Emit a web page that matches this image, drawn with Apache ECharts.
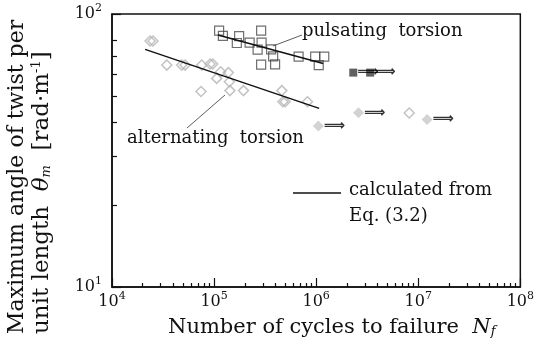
<!DOCTYPE html>
<html>
<head>
<meta charset="utf-8">
<script src="https://cdn.jsdelivr.net/npm/echarts@6/dist/echarts.min.js"></script>
<style>
html, body { margin: 0; padding: 0; background: #fff; }
#chart { width: 537px; height: 347px; }
</style>
</head>
<body>
<div id="chart"></div>
<script>
// pulsating torsion (open squares)
var pulsatingN = [1.12e5, 1.22e5, 1.76e5, 1.67e5, 2.23e5, 2.89e5, 2.92e5, 2.67e5, 3.62e5, 3.79e5, 2.89e5, 3.96e5, 6.73e5, 9.78e5, 1.20e6, 1.06e6]
var pulsatingTheta = [86.9, 83.1, 83.0, 78.3, 78.6, 86.9, 78.6, 74.1, 74.2, 69.9, 65.3, 65.4, 69.8, 69.8, 69.8, 65.0]
// pulsating run-outs (no failure)
var pulsatingRunN = [2.31e6, 3.38e6]
var pulsatingRunTheta = [61.0, 61.0]

// alternating torsion (open diamonds)
var alternatingN = [2.36e4, 2.52e4, 3.44e4, 4.82e4, 5.20e4, 7.57e4, 9.14e4, 9.71e4, 1.06e5, 1.16e5, 1.38e5, 1.41e5, 7.44e4, 1.43e5, 1.94e5, 4.61e5, 4.72e5, 4.97e5, 8.22e5, 8.16e6]
var alternatingTheta = [79.6, 79.6, 65.0, 65.0, 65.0, 65.0, 65.6, 65.6, 58.1, 61.4, 61.0, 56.5, 52.0, 52.4, 52.4, 52.4, 47.7, 47.7, 47.7, 43.4]
// alternating run-outs
var alternatingRunN = [1.05e6, 2.60e6, 1.22e7]
var alternatingRunTheta = [38.9, 43.5, 41.1]

// lines calculated from Eq. (3.2)
var pulsatingFitN = [1.09e5, 1.17e6]
var pulsatingFitTheta = [83.8, 65.9]
var alternatingFitN = [2.11e4, 1.07e6]
var alternatingFitTheta = [74.2, 45.1]

// minor ticks (log10 of 2..9 per decade)
var xMinor = []
for (var d = 4; d < 8; d++) {
  for (var k = 2; k <= 9; k++) xMinor.push(d + Math.log10(k))
}
var yMinor = [20, 30, 40, 50, 60, 70, 80].map(function (v) { return Math.log10(v) })

function zip(xs, ys) {
  return xs.map(function (x, i) { return [x, ys[i]] })
}

var serif = 'DejaVu Serif'
var ink = '#111'

var powLabel = {
  fontFamily: serif,
  color: ink,
  formatter: function (v) {
    return '10{s|' + Math.round(Math.log10(v)) + '}'
  },
  rich: {
    s: { fontFamily: serif, fontSize: 11, verticalAlign: 'top', lineHeight: 10, color: ink }
  },
  fontSize: 16,
  lineHeight: 22
}

var arrowLabel = {
  show: true, position: 'right', distance: 0, formatter: '\u27f9',
  fontFamily: 'DejaVu Sans', fontSize: 15, fontWeight: 'bold', color: '#000'
}

var chart = echarts.init(document.getElementById('chart'))

var option = {
  animation: false,
  grid: {
    left: 112, right: 16, top: 14, bottom: 60,
    show: true, borderColor: ink, borderWidth: 1.5
  },
  xAxis: [
    {
      type: 'log', logBase: 10, min: 1e4, max: 1e8,
      axisLine: { lineStyle: { color: ink, width: 1.5 } },
      axisTick: { inside: true, length: 9, lineStyle: { color: ink, width: 1.2 } },
      axisLabel: Object.assign({ margin: 4 }, powLabel),
      splitLine: { show: false }
    },
    {
      type: 'value', min: 4, max: 8, position: 'bottom',
      axisLine: { show: false },
      axisTick: { inside: true, length: 4, customValues: xMinor, lineStyle: { color: ink, width: 1.2 } },
      axisLabel: { show: false },
      splitLine: { show: false }
    }
  ],
  yAxis: [
    {
      type: 'log', logBase: 10, min: 10, max: 100,
      axisLine: { lineStyle: { color: ink, width: 1.5 } },
      axisTick: { inside: true, length: 9, lineStyle: { color: ink, width: 1.2 } },
      axisLabel: Object.assign({ margin: 10 }, powLabel),
      splitLine: { show: false }
    },
    {
      type: 'value', min: 1, max: 2, position: 'left',
      axisLine: { show: false },
      axisTick: { inside: true, length: 5, customValues: yMinor, lineStyle: { color: ink, width: 1.2 } },
      axisLabel: { show: false },
      splitLine: { show: false }
    }
  ],
  series: [
    {
      type: 'line', data: zip(pulsatingFitN, pulsatingFitTheta),
      symbol: 'none', lineStyle: { color: ink, width: 1.5 }, z: 3
    },
    {
      type: 'line', data: zip(alternatingFitN, alternatingFitTheta),
      symbol: 'none', lineStyle: { color: ink, width: 1.5 }, z: 3
    },
    {
      type: 'scatter', data: zip(pulsatingN, pulsatingTheta),
      symbol: 'rect', symbolSize: 9,
      itemStyle: { color: 'rgba(255,255,255,0)', borderColor: '#4a4a4a', borderWidth: 1.2 }
    },
    {
      type: 'scatter', data: zip(alternatingN, alternatingTheta),
      symbol: 'diamond', symbolSize: 10,
      itemStyle: { color: 'rgba(255,255,255,0)', borderColor: '#b4b4b4', borderWidth: 1.5 }
    },
    {
      type: 'scatter', data: zip(pulsatingRunN, pulsatingRunTheta),
      symbol: 'rect', symbolSize: 8,
      itemStyle: { color: '#3a3a3a' },
      label: arrowLabel
    },
    {
      type: 'scatter', data: zip(alternatingRunN, alternatingRunTheta),
      symbol: 'diamond', symbolSize: 11,
      itemStyle: { color: '#c8c8c8' },
      label: arrowLabel
    }
  ],
  graphic: [
    {
      type: 'text', x: 302, y: 31,
      style: { text: 'pulsating  torsion', font: '18px "DejaVu Serif"', fill: ink, verticalAlign: 'middle' }
    },
    {
      type: 'line', shape: { x1: 302, y1: 35, x2: 273, y2: 46 },
      style: { stroke: '#333', lineWidth: 0.8 }
    },
    {
      type: 'text', x: 127, y: 138,
      style: { text: 'alternating  torsion', font: '18px "DejaVu Serif"', fill: ink, verticalAlign: 'middle' }
    },
    {
      type: 'line', shape: { x1: 187, y1: 128, x2: 225, y2: 95 },
      style: { stroke: '#333', lineWidth: 0.8 }
    },
    {
      type: 'line', shape: { x1: 293, y1: 193, x2: 341, y2: 193 },
      style: { stroke: ink, lineWidth: 1.5 }
    },
    {
      type: 'text', x: 349, y: 190,
      style: { text: 'calculated from', font: '18px "DejaVu Serif"', fill: ink, verticalAlign: 'middle' }
    },
    {
      type: 'text', x: 349, y: 216,
      style: { text: 'Eq. (3.2)', font: '18px "DejaVu Serif"', fill: ink, verticalAlign: 'middle' }
    },
    {
      type: 'text', x: 168, y: 328,
      style: {
        text: 'Number of cycles to failure  {it|N}{sub|f}',
        font: '21px "DejaVu Serif"', fill: ink, verticalAlign: 'middle',
        rich: {
          it: { fontFamily: serif, fontStyle: 'italic', fontSize: 21 },
          sub: { fontFamily: serif, fontStyle: 'italic', fontSize: 13, verticalAlign: 'bottom', lineHeight: 15 }
        }
      }
    },
    {
      type: 'text', x: 17, y: 334, rotation: Math.PI / 2,
      style: { text: 'Maximum angle of twist per', font: '22px "DejaVu Serif"', fill: ink, verticalAlign: 'middle' }
    },
    {
      type: 'text', x: 42, y: 334, rotation: Math.PI / 2,
      style: {
        text: 'unit length  {it|θ}{sub|m}  [rad·m{sup|-1}]',
        font: '23px "DejaVu Serif"', fill: ink, verticalAlign: 'middle',
        rich: {
          it: { fontFamily: serif, fontStyle: 'italic', fontSize: 23 },
          sub: { fontFamily: serif, fontStyle: 'italic', fontSize: 13, verticalAlign: 'bottom', lineHeight: 15 },
          sup: { fontFamily: serif, fontSize: 13, verticalAlign: 'top', lineHeight: 13 }
        }
      }
    }
  ]
}

chart.setOption(option)
</script>
</body>
</html>
